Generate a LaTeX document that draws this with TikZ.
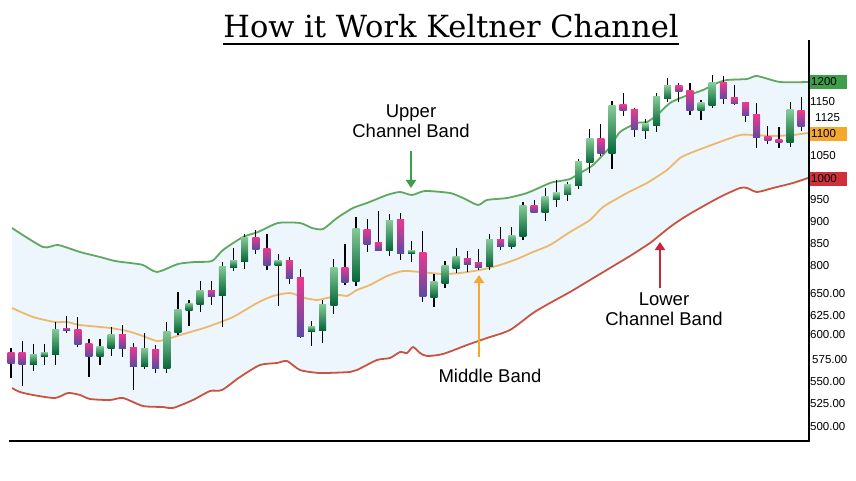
\documentclass[tikz,border=0pt]{standalone}
\usepackage{fontspec}
\setmainfont{Liberation Sans}
\newfontfamily\titlefont{DejaVu Serif}
\usetikzlibrary{arrows.meta}
\definecolor{upgreen}{HTML}{5FA860}
\definecolor{midorange}{HTML}{EDB86C}
\definecolor{lowred}{HTML}{C85440}
\definecolor{chanblue}{HTML}{EEF6FD}
\definecolor{bulltop}{HTML}{85CA96}
\definecolor{bullbot}{HTML}{07673A}
\definecolor{beartop}{HTML}{EE3790}
\definecolor{bearbot}{HTML}{5B4CA2}
\definecolor{taggreen}{HTML}{3E9E4A}
\definecolor{tagorange}{HTML}{F4A82C}
\definecolor{tagred}{HTML}{D0303A}
\definecolor{arrred}{HTML}{C8283A}

\begin{document}
\begin{tikzpicture}[x=1pt, y=-1pt,
    wick/.style={line width=1.2pt, black},
    bull/.style={top color=bulltop, bottom color=bullbot},
    bear/.style={top color=beartop, bottom color=bearbot},
    band/.style={line width=1.8pt, line join=round},
    lab/.style={font=\fontsize{18.5}{20}\selectfont, align=center, inner sep=0pt},
    ticklab/.style={font=\fontsize{11.5}{12}\selectfont, inner sep=0pt, anchor=west},
    tag/.style={ticklab, fill=#1, text width=35pt, minimum height=14pt, inner xsep=1pt},
    pointer/.style={line width=2pt, -{Triangle[width=10pt,length=8pt]}}]
    \useasboundingbox[fill=white] (0,0) rectangle (856,481);
    % title
    \node[font=\titlefont\fontsize{30.5}{34}\selectfont, inner sep=0pt, anchor=base] (title) at (451,38) {How it Work Keltner Channel};
    \draw[line width=2pt] ([yshift=-6pt]title.base west) -- ([yshift=-6pt]title.base east);
    % channel
    \fill[chanblue] plot[smooth, tension=0.4] coordinates {(12,228) (43,247) (58,245) (80,252) (100,257) (115,261) (130,263) (143,265) (157,272) (178,264) (195,262) (212,261) (223,250) (243,237) (258,232) (278,223) (300,223) (312,228) (323,229) (337,218) (353,208) (367,203) (387,195) (400,192) (412,195) (425,191) (450,193) (463,198) (478,205) (487,200) (507,198) (527,193) (550,183) (560,181) (570,179) (580,173) (593,165) (610,147) (620,132) (637,123) (647,122) (657,115) (670,103) (683,97) (703,90) (717,83) (727,80) (747,79) (757,76) (780,82) (808,82)}
        -- plot[smooth, tension=0.4] coordinates {(808,178) (793,183) (773,188) (757,192) (747,188) (740,188) (720,197) (693,212) (680,220) (670,227) (660,235) (650,243) (630,256) (610,268) (590,280) (570,292) (550,303) (533,313) (510,330) (487,338) (467,345) (443,354) (427,356) (420,353) (413,347) (407,353) (400,352) (390,358) (377,360) (357,370) (350,372) (320,373) (300,370) (287,361) (277,363) (260,365) (240,377) (222,390) (210,391) (193,400) (173,408) (163,407) (143,406) (123,398) (110,400) (90,399) (80,395) (68,393) (55,398) (33,395) (20,392) (12,388)} -- cycle;
    \draw[band, upgreen] plot[smooth, tension=0.4] coordinates {(12,228) (43,247) (58,245) (80,252) (100,257) (115,261) (130,263) (143,265) (157,272) (178,264) (195,262) (212,261) (223,250) (243,237) (258,232) (278,223) (300,223) (312,228) (323,229) (337,218) (353,208) (367,203) (387,195) (400,192) (412,195) (425,191) (450,193) (463,198) (478,205) (487,200) (507,198) (527,193) (550,183) (560,181) (570,179) (580,173) (593,165) (610,147) (620,132) (637,123) (647,122) (657,115) (670,103) (683,97) (703,90) (717,83) (727,80) (747,79) (757,76) (780,82) (808,82)};
    \draw[band, midorange] plot[smooth, tension=0.4] coordinates {(12,308) (33,317) (55,322) (67,322) (80,325) (110,328) (127,331) (140,335) (157,341) (167,339) (187,333) (207,327) (233,317) (257,303) (273,296) (290,293) (305,298) (317,300) (327,298) (340,295) (347,296) (357,290) (370,285) (387,276) (403,271) (420,272) (443,274) (460,273) (480,270) (500,265) (517,259) (533,252) (550,245) (570,232) (590,220) (603,207) (627,193) (647,183) (667,170) (680,158) (693,152) (717,143) (740,135) (753,135) (773,136) (793,135) (808,133)};
    \draw[band, lowred] plot[smooth, tension=0.4] coordinates {(12,388) (20,392) (33,395) (55,398) (68,393) (80,395) (90,399) (110,400) (123,398) (143,406) (163,407) (173,408) (193,400) (210,391) (222,390) (240,377) (260,365) (277,363) (287,361) (300,370) (320,373) (350,372) (357,370) (377,360) (390,358) (400,352) (407,353) (413,347) (420,353) (427,356) (443,354) (467,345) (487,338) (510,330) (533,313) (550,303) (570,292) (590,280) (610,268) (630,256) (650,243) (660,235) (670,227) (680,220) (693,212) (720,197) (740,188) (747,188) (757,192) (773,188) (793,183) (808,178)};
    % candles
    \foreach \i/\bt/\bb/\wh/\wl in {3/354/364/344/371, 4/352/356/344/365, 5/329/354/322/365, 9/346/356/339/365, 10/334/348/327/356, 13/348/366/333/369, 15/331/368/322/373, 16/309/332/292/335, 17/303/310/300/326, 18/290/304/281/312, 20/266/295/262/327, 21/260/267/248/271, 22/237/261/234/269, 25/260/265/254/306, 28/326/331/321/346, 29/304/330/300/343, 30/267/305/259/314, 32/228/281/217/286, 35/220/250/214/256, 37/250/253/241/262, 39/281/297/274/307, 40/265/283/261/288, 41/256/268/248/273, 44/239/266/234/270, 46/235/246/227/249, 47/205/236/202/240, 49/197/212/188/221, 50/193/199/180/207, 51/185/195/182/201, 52/162/186/159/189, 53/139/163/129/173, 55/106/154/101/169, 58/124/131/119/139, 59/97/126/93/132, 60/86/99/78/102, 63/103/111/100/120, 64/83/106/75/108, 71/110/143/102/147}{
        \draw[wick] ({11+(\i-1)*11.13},\wh) -- ({11+(\i-1)*11.13},\wl);
        \shade[bull] ({7.5+(\i-1)*11.13},\bt) rectangle ({14.5+(\i-1)*11.13},\bb);
    }
    \foreach \i/\bt/\bb/\wh/\wl in {1/352/363/348/378, 2/352/364/341/386, 6/328/330/316/333, 7/329/344/317/347, 8/343/356/339/377, 11/334/348/325/357, 12/347/366/343/390, 14/349/368/345/373, 19/290/296/281/305, 23/237/249/230/254, 24/248/265/234/270, 26/260/278/257/284, 27/277/336/269/338, 31/267/282/244/285, 33/229/244/219/252, 34/242/250/211/250, 36/219/253/213/260, 38/252/296/231/302, 42/258/264/251/272, 43/262/267/249/270, 45/239/246/227/250, 48/205/212/200/213, 54/139/154/124/156, 56/105/111/93/116, 57/110/130/108/137, 61/86/92/83/102, 62/91/111/83/115, 65/83/99/76/104, 66/98/104/85/105, 67/103/116/103/122, 68/115/138/103/148, 69/137/141/126/144, 70/140/143/127/148, 72/111/127/97/131}{
        \draw[wick] ({11+(\i-1)*11.13},\wh) -- ({11+(\i-1)*11.13},\wl);
        \shade[bear] ({7.5+(\i-1)*11.13},\bt) rectangle ({14.5+(\i-1)*11.13},\bb);
    }
    % axes
    \draw[line width=2pt] (9,441) -- (809,441) -- (809,40);
    \foreach \lab/\xx/\yy [count=\k] in {1150/810/102, 1125/815/118, 1050/810/156, 950/810/200, 900/810/222, 850/810/244, 800/810/266, 650.00/810/294, 625.00/810/316, 600.00/810/335, 575.00/812/360, 550.00/810/382, 525.00/810/404, 500.00/810/427}
        \node[ticklab] (tick\k) at (\xx,\yy) {\lab};
    \node[tag=taggreen] (t1200) at (810,82) {1200};
    \node[tag=tagorange] (t1100) at (810,134) {1100};
    \node[tag=tagred] (t1000) at (810,179) {1000};
    % labels
    \coordinate (uptip) at (411,188);
    \coordinate (midtip) at (479,275);
    \coordinate (lowtip) at (660,242);
    \node[lab] (upper) at (411,121) {Upper\\Channel Band};
    \node[lab] (middle) at (490,376) {Middle Band};
    \node[lab] (lower) at (664,309) {Lower\\Channel Band};
    \draw[pointer, taggreen] (upper.south -| uptip) ++(0,13) -- (uptip);
    \draw[pointer, tagorange] (middle.north -| midtip) ++(0,-12) -- (midtip);
    \draw[pointer, arrred] (lower.north -| lowtip) ++(0,-4) -- (lowtip);
\end{tikzpicture}
\end{document}
